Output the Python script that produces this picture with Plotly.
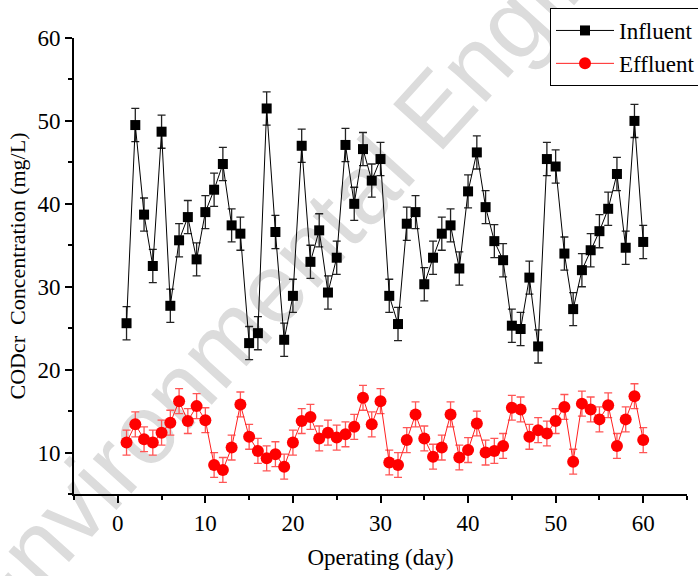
import plotly.graph_objects as go

days = list(range(1, 61))
influent = [25.6, 49.5, 38.7, 32.5, 48.7, 27.7, 35.6, 38.4, 33.3, 39.0,
            41.7, 44.8, 37.4, 36.4, 23.2, 24.4, 51.5, 36.6, 23.6, 28.9,
            47.0, 33.0, 36.8, 29.3, 33.5, 47.1, 40.0, 46.6, 42.8, 45.4,
            28.9, 25.5, 37.6, 39.0, 30.3, 33.5, 36.4, 37.4, 32.2, 41.5,
            46.2, 39.6, 35.5, 33.2, 25.3, 24.9, 31.1, 22.8, 45.4, 44.5,
            34.0, 27.3, 32.0, 34.4, 36.7, 39.4, 43.6, 34.7, 50.0, 35.4]
effluent = [11.2, 13.4, 11.6, 11.2, 12.4, 13.6, 16.2, 13.8, 15.6, 13.9,
            8.5, 7.9, 10.6, 15.8, 11.9, 10.2, 9.3, 9.8, 8.3, 11.2,
            13.8, 14.3, 11.7, 12.4, 11.8, 12.2, 13.1, 16.6, 13.4, 16.2,
            8.8, 8.5, 11.5, 14.6, 11.7, 9.5, 10.6, 14.6, 9.4, 10.3,
            13.5, 10.0, 10.2, 10.8, 15.4, 15.2, 11.9, 12.7, 12.3, 13.8,
            15.5, 8.9, 15.9, 15.2, 14.0, 15.7, 10.8, 14.0, 16.8, 11.5]
influent_err = 2.0
effluent_err = 1.5

x_ticks = [0, 10, 20, 30, 40, 50, 60]
y_ticks = [10, 20, 30, 40, 50, 60]

serif = "Liberation Serif"
FS = 23

fig = go.Figure()
fig.add_trace(go.Scatter(
    x=days, y=influent, mode="lines+markers", name="Influent",
    line=dict(color="black", width=1),
    marker=dict(symbol="square", size=10, color="black"),
    error_y=dict(type="constant", value=influent_err, color="#222222",
                 thickness=1.3, width=4),
))
fig.add_trace(go.Scatter(
    x=days, y=effluent, mode="lines+markers", name="Effluent",
    line=dict(color="#ff2020", width=1),
    marker=dict(symbol="circle", size=12, color="#ff0000"),
    error_y=dict(type="constant", value=effluent_err, color="#ff5555",
                 thickness=1.3, width=4),
))

# watermark (drawn below the data)
L, R, T, B = 74, 687, 38, 494
def px(xp):
    return (xp - L) / (R - L)
def py(yp):
    return (B - yp) / (B - T)

fig.add_shape(
    type="line", xref="paper", yref="paper",
    x0=px(-41), y0=py(619), x1=px(765), y1=py(-269),
    line=dict(color="rgba(0,0,0,0)", width=1),
    layer="below",
    label=dict(text="Environmental Engineering", textposition="middle",
               yanchor="middle", textangle=-47.8,
               font=dict(family="Liberation Sans", size=98, color="#dcdcdc")),
)

fig.update_layout(
    width=698, height=576,
    margin=dict(l=L, r=698 - R, t=T, b=576 - B, autoexpand=False),
    paper_bgcolor="white", plot_bgcolor="rgba(0,0,0,0)",
    font=dict(family=serif, size=FS, color="black"),
    showlegend=True,
    legend=dict(x=px(550), y=py(8), xanchor="left", yanchor="top",
                bgcolor="white", bordercolor="black", borderwidth=1,
                font=dict(family=serif, size=FS, color="black"),
                itemwidth=58, tracegroupgap=0),
    xaxis=dict(range=[-5, 65], tickvals=x_ticks, ticktext=[str(v) for v in x_ticks],
               showline=True, linecolor="black", linewidth=1.8,
               ticks="outside", ticklen=7, tickwidth=1.5, tickcolor="black",
               minor=dict(dtick=5, tick0=0, ticks="outside", ticklen=4,
                          tickwidth=1.5, tickcolor="black", showgrid=False),
               showgrid=False, zeroline=False, automargin=False,
               tickfont=dict(family=serif, size=FS),
               title=dict(text="Operating (day)", standoff=14,
                          font=dict(family=serif, size=FS))),
    yaxis=dict(range=[5, 60], tickvals=y_ticks, ticktext=[str(v) for v in y_ticks],
               showline=True, linecolor="black", linewidth=1.8,
               ticks="outside", ticklen=7, tickwidth=1.5, tickcolor="black",
               minor=dict(dtick=5, tick0=0, ticks="outside", ticklen=4,
                          tickwidth=1.5, tickcolor="black", showgrid=False),
               showgrid=False, zeroline=False, automargin=False,
               tickfont=dict(family=serif, size=FS),
               title=dict(text="CODcr\u00a0 Concentration (mg/L)", standoff=6,
                          font=dict(family=serif, size=22))),
)

fig.write_html("out.html", config={"displayModeBar": False},
               post_script="document.body.style.margin='0px';")
